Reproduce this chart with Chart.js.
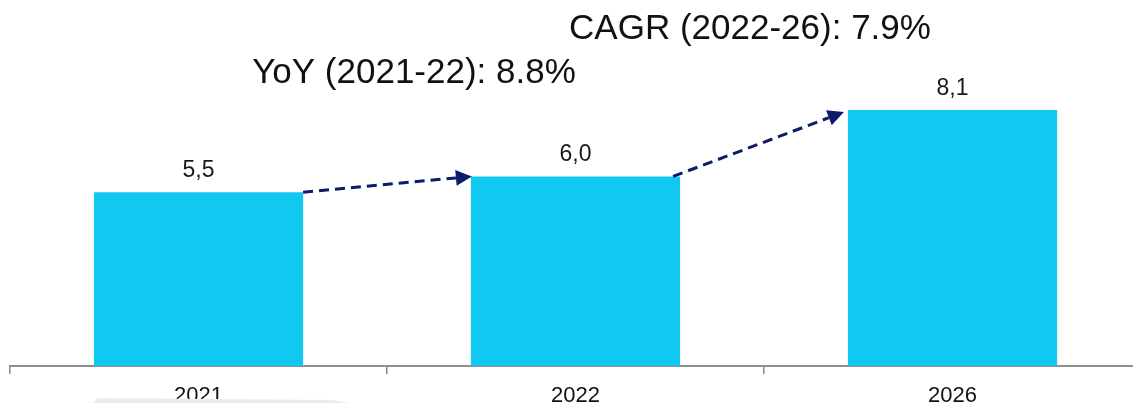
<!DOCTYPE html>
<html>
<head>
<meta charset="utf-8">
<script src="https://cdn.jsdelivr.net/npm/chart.js@4"></script>
<style>
    html, body { margin: 0; padding: 0; background: #fff; overflow: hidden; }
    #wrap { position: relative; width: 1133px; height: 403px; overflow: hidden; }
    #chart { position: absolute; left: 0; top: 0; }
    .shade {
        position: absolute; left: 92px; top: 398px; width: 258px; height: 5px;
        background: #ececec;
        clip-path: polygon(0 100%, 6px 0, 240px 40%, 258px 100%);
    }
</style>
</head>
<body>
<div id="wrap">
    <canvas id="chart" width="1150" height="403"></canvas>
    <div class="shade"></div>
</div>
<script>
const years = ['2021', '2022', '2026'];
const marketSize = [5.5, 6.0, 8.1];
const growthNotes = [
    { text: 'YoY (2021-22): 8.8%', x: 414, y: 83 },
    { text: 'CAGR (2022-26): 7.9%', x: 750, y: 39 }
];

const FONT = "'Liberation Sans', Arial, sans-serif";
const BAR_COLOR = '#10C8F0';
const ARROW_COLOR = '#0b1c6c';

// value labels above bars
const valueLabels = {
    id: 'valueLabels',
    afterDatasetsDraw(chart) {
        const { ctx } = chart;
        const meta = chart.getDatasetMeta(0);
        ctx.save();
        ctx.font = '23px ' + FONT;
        ctx.fillStyle = '#1a1a1a';
        ctx.textAlign = 'center';
        ctx.textBaseline = 'alphabetic';
        meta.data.forEach((bar, i) => {
            const label = marketSize[i].toFixed(1).replace('.', ',');
            ctx.fillText(label, bar.x, bar.y - 15);
        });
        ctx.restore();
    }
};

// dashed arrows between bar tops
const growthArrows = {
    id: 'growthArrows',
    afterDatasetsDraw(chart) {
        const { ctx } = chart;
        const bars = chart.getDatasetMeta(0).data;
        ctx.save();
        for (let i = 0; i < bars.length - 1; i++) {
            const a = bars[i], b = bars[i + 1];
            const x1 = a.x + a.width / 2 - (i === 0 ? 0 : 7);
            const y1 = a.y;
            const x2 = b.x - b.width / 2 - (i === 0 ? -1 : 4);
            const y2 = b.y + (i === 0 ? 0 : 2);
            const ang = Math.atan2(y2 - y1, x2 - x1);
            const head = 16, half = 8;
            const bx = x2 - head * Math.cos(ang), by = y2 - head * Math.sin(ang);

            ctx.strokeStyle = ARROW_COLOR;
            ctx.lineWidth = 3;
            ctx.setLineDash([10, 6]);
            ctx.beginPath();
            ctx.moveTo(x1, y1);
            ctx.lineTo(bx, by);
            ctx.stroke();

            ctx.setLineDash([]);
            ctx.fillStyle = ARROW_COLOR;
            ctx.beginPath();
            ctx.moveTo(x2, y2);
            ctx.lineTo(bx + half * Math.sin(ang), by - half * Math.cos(ang));
            ctx.lineTo(bx - half * Math.sin(ang), by + half * Math.cos(ang));
            ctx.closePath();
            ctx.fill();
        }
        ctx.restore();
    }
};

const growthText = {
    id: 'growthText',
    afterDraw(chart) {
        const { ctx } = chart;
        ctx.save();
        ctx.font = '35px ' + FONT;
        ctx.fillStyle = '#111';
        ctx.textAlign = 'center';
        ctx.textBaseline = 'alphabetic';
        growthNotes.forEach(n => ctx.fillText(n.text, n.x, n.y));
        ctx.restore();
    }
};

new Chart(document.getElementById('chart'), {
    type: 'bar',
    data: {
        labels: years,
        datasets: [{
            data: marketSize,
            backgroundColor: BAR_COLOR,
            borderWidth: 0,
            barPercentage: 1,
            categoryPercentage: 0.555
        }]
    },
    options: {
        responsive: false,
        animation: false,
        layout: { padding: { top: 50, left: 10, right: 9, bottom: 0 } },
        plugins: {
            legend: { display: false },
            tooltip: { enabled: false }
        },
        scales: {
            x: {
                afterFit: s => { s.height = 37; },
                border: { display: true, color: '#8f8f8f', width: 2 },
                grid: {
                    offset: true,
                    drawOnChartArea: false,
                    drawTicks: true,
                    tickLength: 8,
                    color: '#8a8a8a',
                    lineWidth: 1.5
                },
                ticks: {
                    padding: 9,
                    color: '#111',
                    font: { family: FONT, size: 22 }
                }
            },
            y: {
                display: false,
                min: 0,
                max: 10
            }
        }
    },
    plugins: [valueLabels, growthArrows, growthText]
});
</script>
</body>
</html>
